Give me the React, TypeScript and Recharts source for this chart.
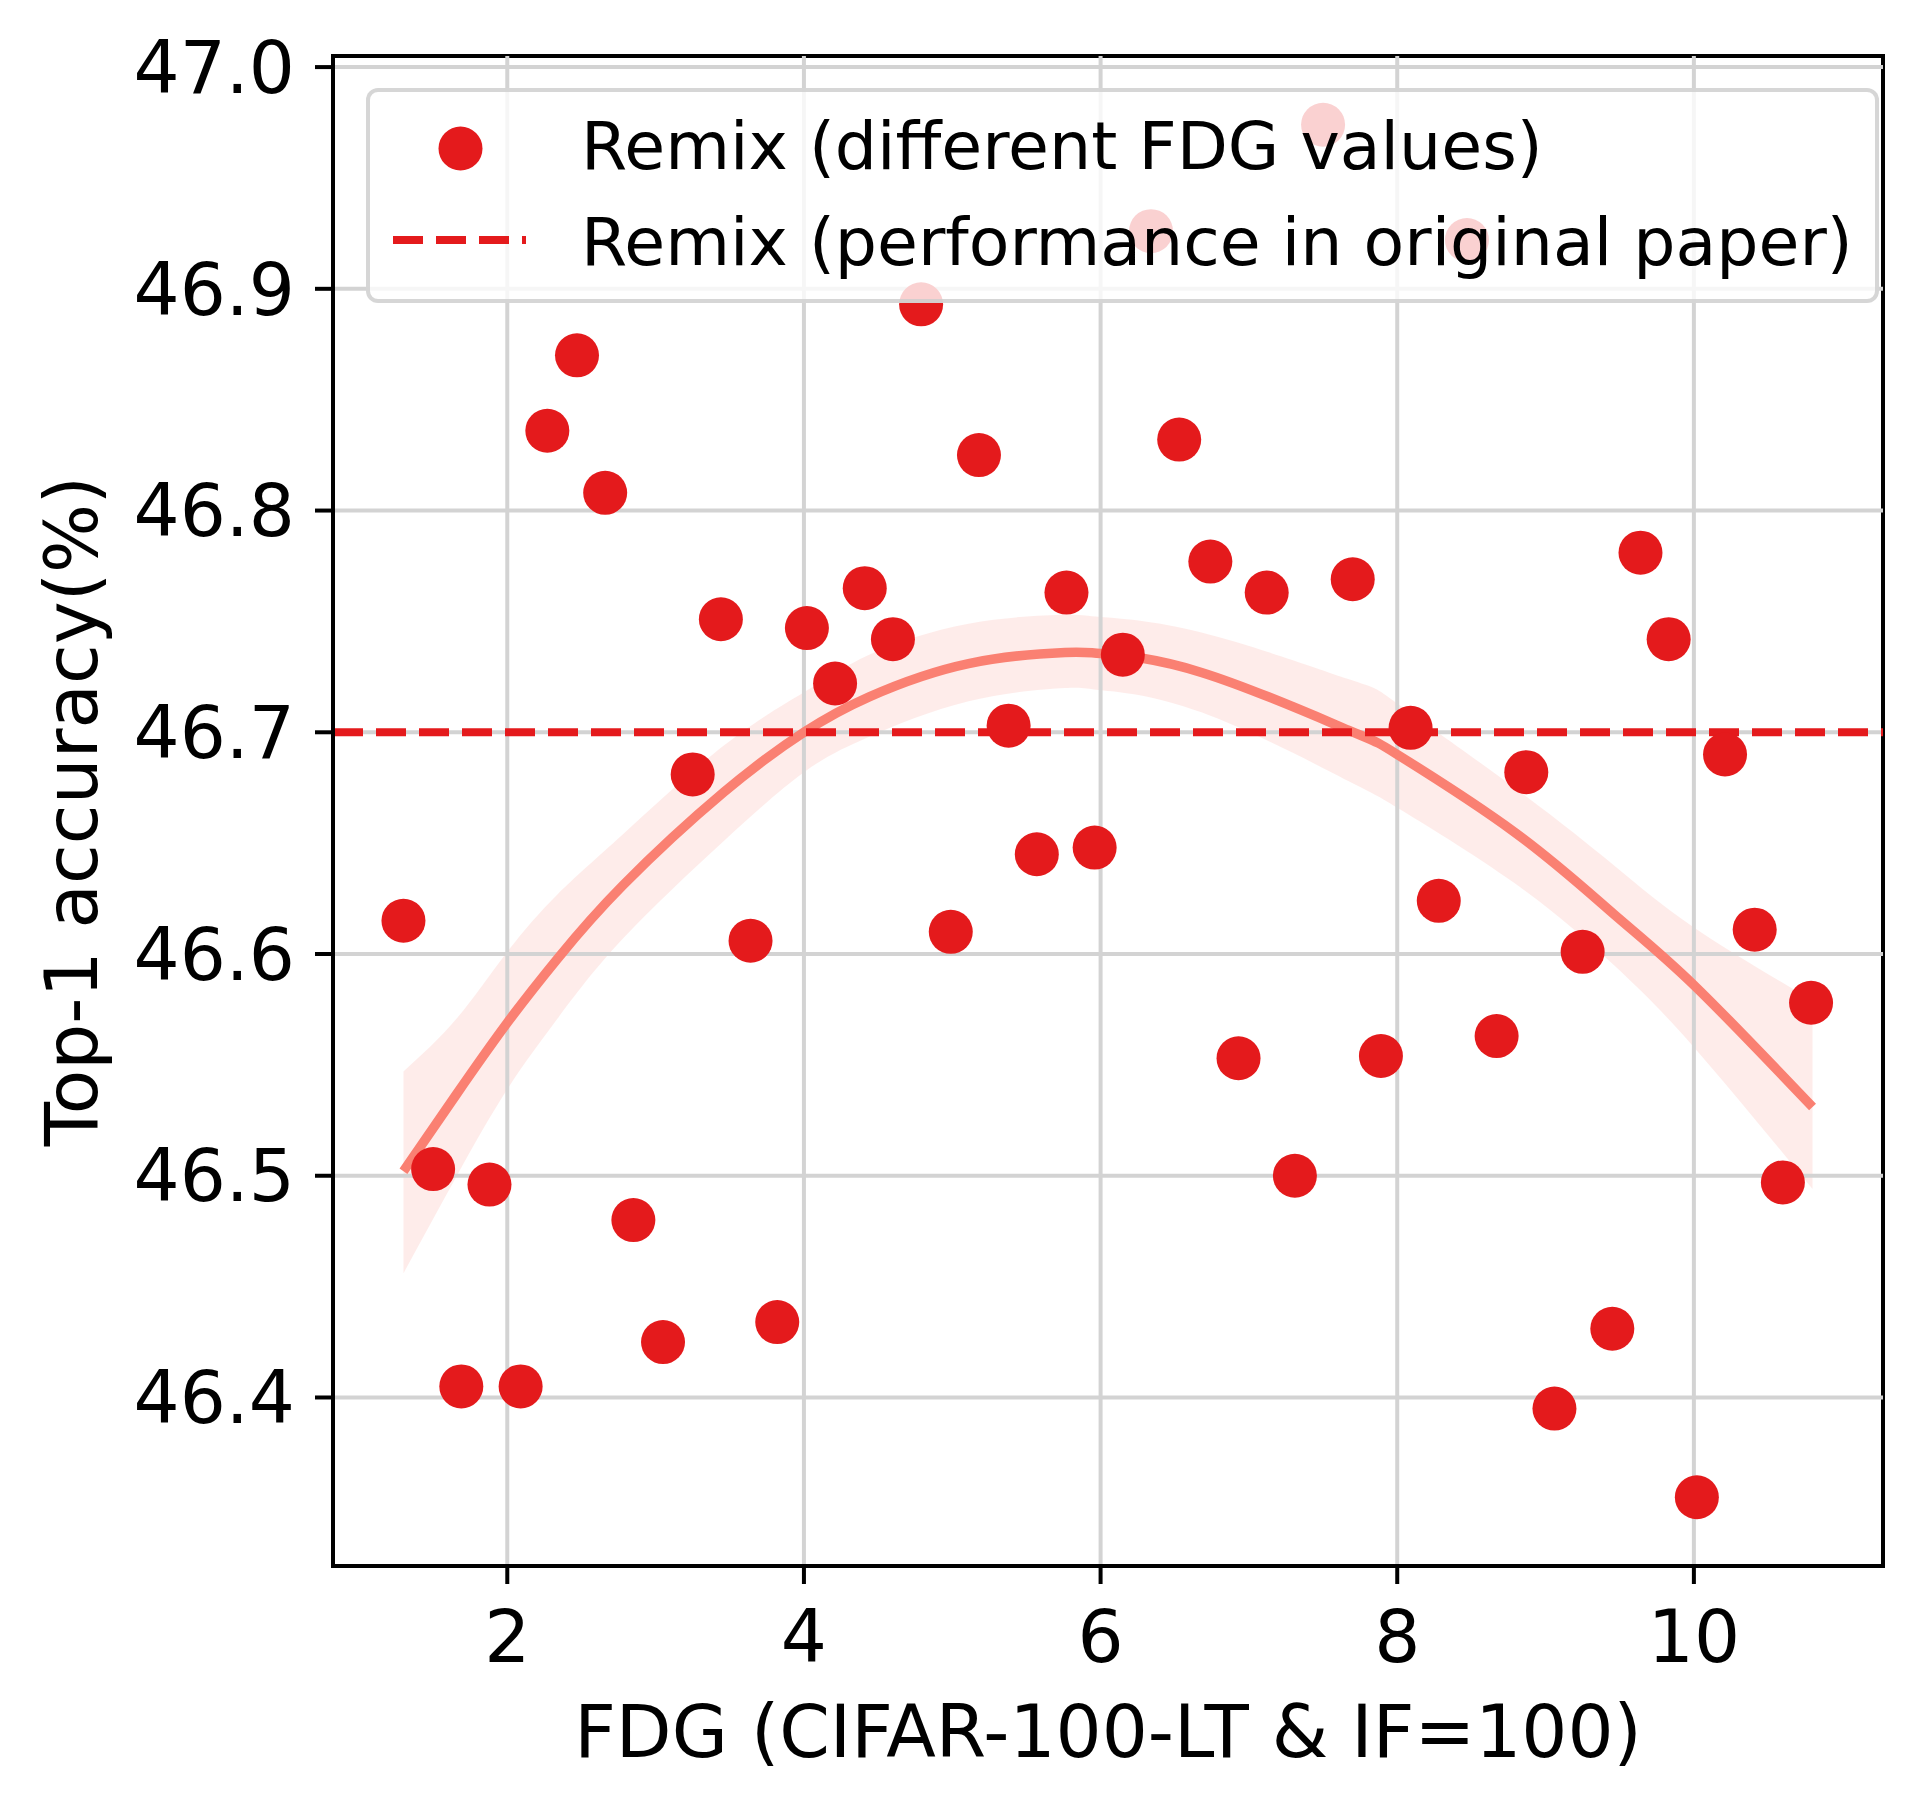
import React from 'react';
import {
  ComposedChart, Scatter, Line, Area, XAxis, YAxis, ReferenceLine, ReferenceArea,
} from 'recharts';

// ---- data ----
const fdgValues = [1.30, 1.50, 1.69, 1.88, 2.09, 2.27, 2.47, 2.66, 2.85, 3.05, 3.25, 3.44, 3.64, 3.82, 4.02, 4.21, 4.41, 4.60, 4.79, 4.99, 5.18, 5.38, 5.57, 5.77, 5.96, 6.15, 6.34, 6.53, 6.74, 6.93, 7.12, 7.31, 7.50, 7.70, 7.89, 8.09, 8.28, 8.47, 8.67, 8.87, 9.06, 9.25, 9.45, 9.64, 9.83, 10.02, 10.21, 10.41, 10.60, 10.79];
const accuracyValues = [46.615, 46.503, 46.405, 46.496, 46.405, 46.836, 46.870, 46.808, 46.480, 46.425, 46.681, 46.751, 46.606, 46.434, 46.747, 46.722, 46.765, 46.742, 46.893, 46.610, 46.825, 46.703, 46.645, 46.763, 46.648, 46.735, 46.926, 46.832, 46.777, 46.553, 46.763, 46.500, 46.974, 46.769, 46.554, 46.702, 46.624, 46.922, 46.563, 46.682, 46.395, 46.601, 46.431, 46.781, 46.742, 46.355, 46.690, 46.611, 46.497, 46.578];

const fitX = [1.30, 1.66, 2.00, 2.34, 2.78, 3.46, 4.00, 4.44, 5.11, 5.76, 6.00, 6.68, 7.67, 8.00, 8.79, 9.46, 10.00, 10.80];
const fitY = [46.502, 46.537, 46.569, 46.598, 46.631, 46.673, 46.700, 46.716, 46.731, 46.736, 46.7355, 46.727, 46.701, 46.690, 46.655, 46.618, 46.586, 46.531];
const fitLo = [46.456, 46.500, 46.539, 46.571, 46.607, 46.651, 46.682, 46.698, 46.714, 46.720, 46.719, 46.709, 46.678, 46.666, 46.632, 46.595, 46.558, 46.494];
const fitHi = [46.547, 46.571, 46.601, 46.627, 46.654, 46.694, 46.718, 46.735, 46.749, 46.753, 46.752, 46.745, 46.724, 46.713, 46.675, 46.640, 46.612, 46.579];

const originalPaper = 46.7;
const xTicks = [2, 4, 6, 8, 10];
const yTicks = [46.4, 46.5, 46.6, 46.7, 46.8, 46.9, 47.0];
const xDomain: [number, number] = [0.825, 11.275];
const yDomain: [number, number] = [46.324, 47.005];

const scatterData = fdgValues.map((x, i) => ({ x, y: accuracyValues[i] }));
const fitData = fitX.map((x, i) => ({ x, y: fitY[i], band: [fitLo[i], fitHi[i]] }));

const RED = '#e41a1c';
const SALMON = '#fa8072';
const GRID = '#d3d3d3';
const FONT = '"DejaVu Sans", sans-serif';
const AXIS_FONT = 72.5;
const LEGEND_FONT = 66.5;

const W = 1923;
const H = 1809;

const YLabel = () => (
  <text
    transform="translate(97,811) rotate(-90)"
    textAnchor="middle"
    fontFamily={FONT}
    fontSize={AXIS_FONT}
    fill="#000"
  >
    Top-1 accuracy(%)
  </text>
);

const LegendBox = () => (
  <div
    style={{
      position: 'absolute',
      left: 366,
      top: 88,
      width: 1513,
      height: 215,
      boxSizing: 'border-box',
      border: '4px solid rgba(204,204,204,0.8)',
      borderRadius: 12,
      background: 'rgba(255,255,255,0.8)',
    }}
  >
    <svg width={1505} height={207} style={{ position: 'absolute', left: 0, top: 0 }}>
      <circle cx={90.5} cy={56.5} r={22} fill={RED} />
      <line x1={23} y1={148} x2={156} y2={148} stroke={RED} strokeWidth={8} strokeDasharray="30 13" />
      <text x={211} y={76.5} fontFamily={FONT} fontSize={LEGEND_FONT} fill="#000">Remix (different FDG values)</text>
      <text x={211} y={173} fontFamily={FONT} fontSize={LEGEND_FONT} fill="#000">Remix (performance in original paper)</text>
    </svg>
  </div>
);

export default function App() {
  return (
    <div style={{ position: 'absolute', left: 0, top: 0, width: W, height: H, background: '#fff' }}>
      <ComposedChart
        width={W}
        height={H}
        margin={{ top: 56, right: 40, bottom: 0, left: 0 }}
      >
        <XAxis
          type="number"
          dataKey="x"
          domain={xDomain}
          allowDataOverflow
          ticks={xTicks}
          height={243}
          tickSize={18}
          tickMargin={27}
          axisLine={{ stroke: '#000', strokeWidth: 4 }}
          tickLine={{ stroke: '#000', strokeWidth: 4 }}
          tick={{ fontSize: AXIS_FONT, fontFamily: FONT, fill: '#000' }}
          label={{
            value: 'FDG (CIFAR-100-LT & IF=100)',
            position: 'insideBottom',
            offset: 52,
            fontSize: AXIS_FONT,
            fontFamily: FONT,
            fill: '#000',
          }}
        />
        <YAxis
          type="number"
          domain={yDomain}
          allowDataOverflow
          ticks={yTicks}
          width={333}
          tickSize={18}
          tickMargin={20}
          tickFormatter={(v: number) => v.toFixed(1)}
          axisLine={{ stroke: '#000', strokeWidth: 4 }}
          tickLine={{ stroke: '#000', strokeWidth: 4 }}
          tick={{ fontSize: AXIS_FONT, fontFamily: FONT, fill: '#000' }}
          label={<YLabel />}
        />
        <Scatter
          data={scatterData}
          dataKey="y"
          isAnimationActive={false}
          shape={(p: any) => <circle cx={p.cx} cy={p.cy} r={22} fill={RED} />}
        />
        <Area
          data={fitData}
          dataKey="band"
          type="natural"
          stroke="none"
          fill={SALMON}
          fillOpacity={0.15}
          isAnimationActive={false}
          dot={false}
          activeDot={false}
        />
        {xTicks.map((t) => (
          <ReferenceLine key={'gx' + t} x={t} stroke={GRID} strokeWidth={4} />
        ))}
        {yTicks.map((t) => (
          <ReferenceLine key={'gy' + t} y={t} stroke={GRID} strokeWidth={4} />
        ))}
        <Line
          data={fitData}
          dataKey="y"
          type="natural"
          stroke={SALMON}
          strokeWidth={9.5}
          dot={false}
          activeDot={false}
          isAnimationActive={false}
        />
        <ReferenceLine y={originalPaper} stroke={RED} strokeWidth={8} strokeDasharray="30 13" />
        <ReferenceArea
          x1={xDomain[0]}
          x2={xDomain[1]}
          y1={yDomain[0]}
          y2={yDomain[1]}
          fill="none"
          fillOpacity={0}
          stroke="#000"
          strokeWidth={4}
          strokeOpacity={1}
        />
      </ComposedChart>
      <LegendBox />
    </div>
  );
}
